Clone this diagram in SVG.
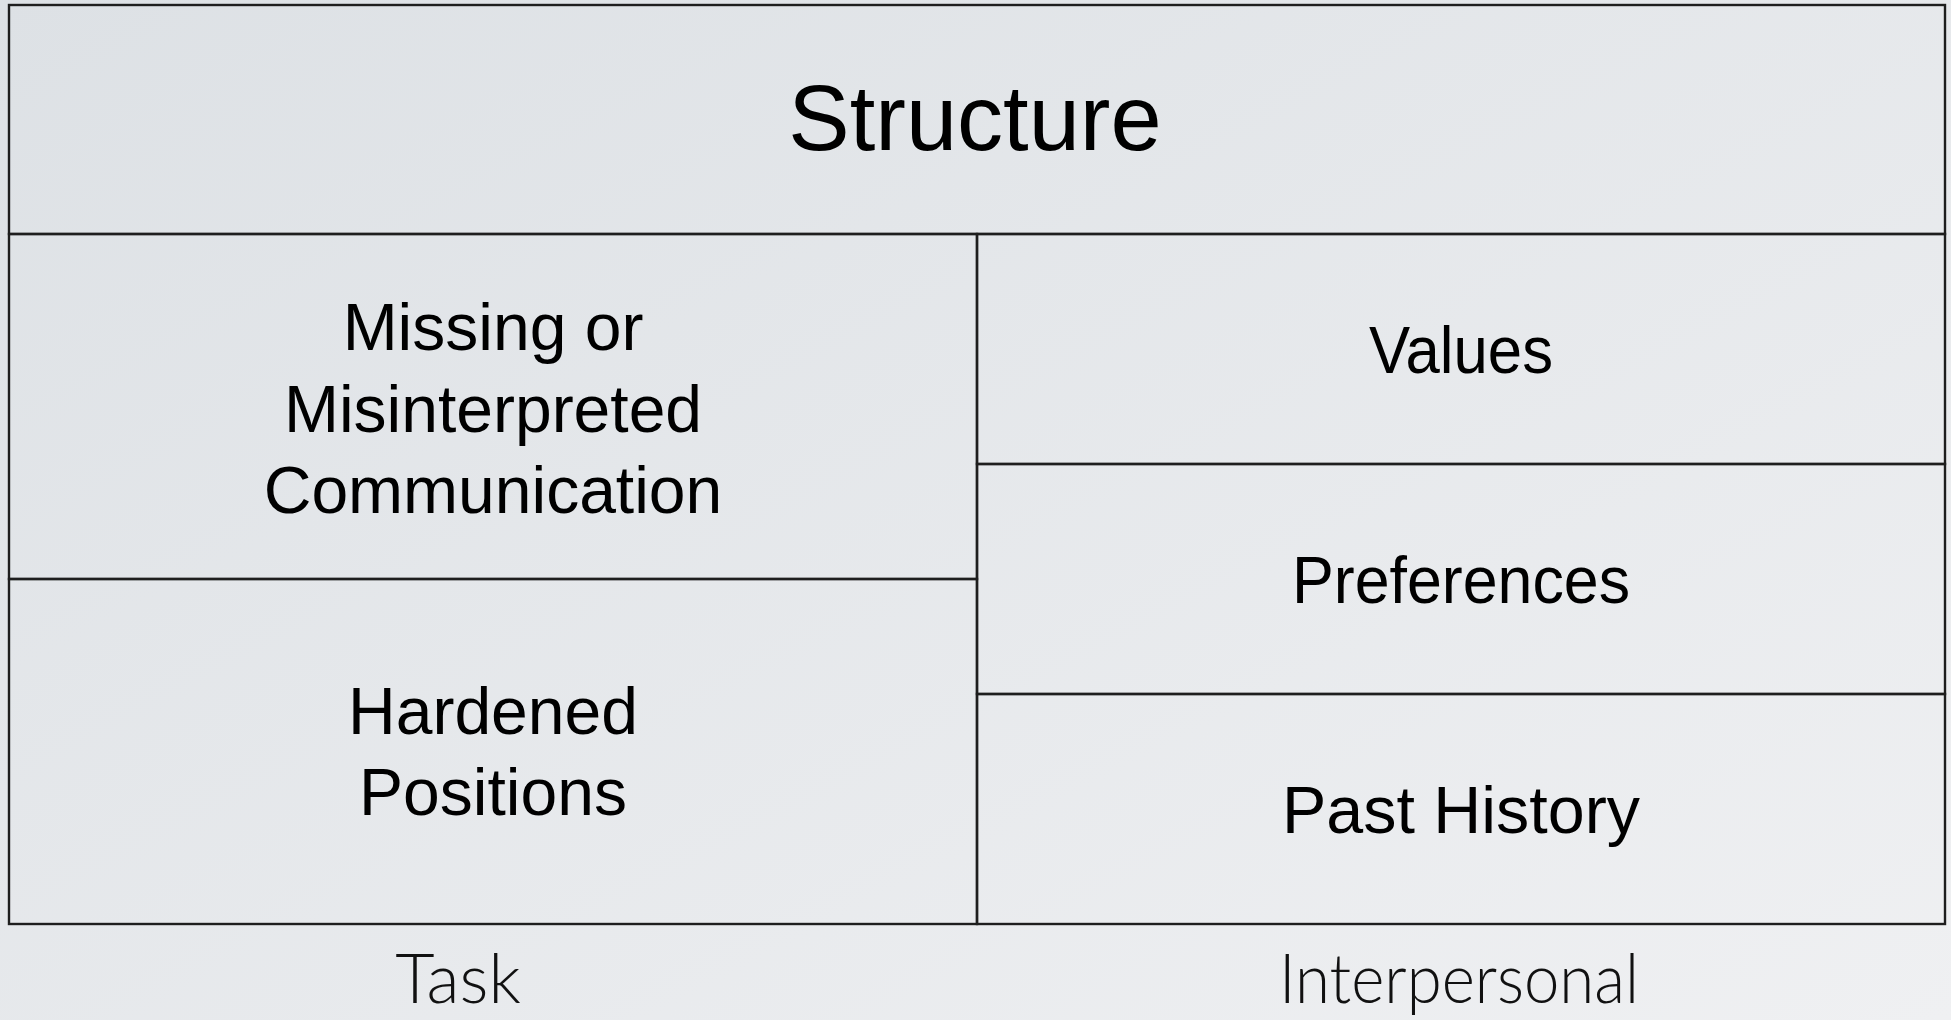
<svg xmlns="http://www.w3.org/2000/svg" width="1951" height="1020" viewBox="0 0 1951 1020">
<defs>
<linearGradient id="bg" x1="0" y1="0" x2="1" y2="1">
<stop offset="0" stop-color="#dde1e5"/>
<stop offset="1" stop-color="#eff0f2"/>
</linearGradient>
<style>
.cell{fill:none;stroke:#1e1e1e;stroke-width:2.4}
.t{font-family:"Liberation Sans",Arial,sans-serif;font-size:66px;fill:#000;text-anchor:middle}
.big{font-size:92px}
.lbl{font-family:"Lato","Liberation Sans",sans-serif;font-weight:300;font-size:68px;fill:#111;text-anchor:middle}
</style>
</defs>
<rect x="0" y="0" width="1951" height="1020" fill="url(#bg)"/>
<g id="structure">
<rect class="cell" x="9" y="5" width="1936" height="229"/>
<text class="t big" x="975" y="150">Structure</text>
</g>
<g id="missing">
<rect class="cell" x="9" y="234" width="968" height="345"/>
<text class="t" x="493" y="350">Missing or</text>
<text class="t" x="493" y="432">Misinterpreted</text>
<text class="t" x="493" y="513">Communication</text>
</g>
<g id="hardened">
<rect class="cell" x="9" y="579" width="968" height="345"/>
<text class="t" x="493" y="734">Hardened</text>
<text class="t" x="493" y="815">Positions</text>
</g>
<g id="values">
<rect class="cell" x="977" y="234" width="968" height="230"/>
<text class="t" x="1461" y="373" textLength="184" lengthAdjust="spacingAndGlyphs">Values</text>
</g>
<g id="preferences">
<rect class="cell" x="977" y="464" width="968" height="230"/>
<text class="t" x="1461" y="603" textLength="338" lengthAdjust="spacingAndGlyphs">Preferences</text>
</g>
<g id="past">
<rect class="cell" x="977" y="694" width="968" height="230"/>
<text class="t" x="1461" y="833" textLength="358" lengthAdjust="spacingAndGlyphs">Past History</text>
</g>
<g id="task">
<text class="lbl" x="458" y="1003">Task</text>
</g>
<g id="interpersonal">
<text class="lbl" x="1459" y="1003" textLength="360" lengthAdjust="spacingAndGlyphs">Interpersonal</text>
</g>
<g id="connectors"/>
</svg>
